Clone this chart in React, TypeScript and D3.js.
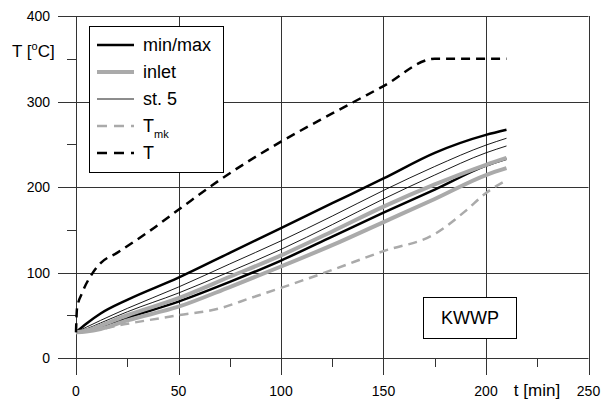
import React from "react";
import * as d3 from "d3";

// time axis [min] for the measured curves
const times = [0, 5, 12, 25, 50, 75, 100, 125, 150, 175, 200, 210];
const maxT = [30, 40, 52, 68, 94, 123, 152, 181, 210, 240, 261, 267];
const st5a = [30, 36, 44, 58, 83, 110, 137, 166, 196, 224, 249, 257];
const st5b = [30, 34, 41, 54, 76, 101, 127, 156, 186, 214, 240, 248];
const inletHi = [30, 32, 38, 50, 70, 95, 120, 148, 177, 203, 226, 234];
const minT = [30, 32, 36, 47, 66, 89, 114, 142, 170, 197, 225, 233];
const inletLo = [30, 31, 34, 44, 60, 83, 107, 132, 159, 186, 214, 222];

const tmkTimes = [0, 10, 25, 50, 70, 85, 100, 125, 150, 175, 190, 200, 210];
const tmk = [30, 33, 40, 50, 58, 70, 82, 103, 125, 145, 172, 193, 208];

const furnTimes = [0, 0.5, 3, 8, 12, 20, 35, 52, 70, 100, 125, 150, 175, 210];
const furnT = [30, 58, 76, 99, 111, 123, 147, 177, 208, 253, 286, 318, 350, 350];

const xMajor = [0, 50, 100, 150, 200, 250];
const xMinor = [25, 75, 125, 175, 225];
const yMajor = [0, 100, 200, 300, 400];
const yMinor = [50, 150, 250, 350];

const legendItems = [
  { label: "min/max", color: "#000", width: 2.5, dash: null as string | null },
  { label: "inlet", color: "#aaa", width: 4, dash: null },
  { label: "st. 5", color: "#000", width: 0.9, dash: null },
  { label: "T", sub: "mk", color: "#aaa", width: 2.5, dash: "10,7" },
  { label: "T", color: "#000", width: 2.5, dash: "10,7" },
];

const font = "'Liberation Sans', Arial, sans-serif";

export default function App() {
  const x = d3.scaleLinear().domain([0, 250]).range([76, 588.5]);
  const y = d3.scaleLinear().domain([0, 400]).range([358, 16]);

  const mk = (ts: number[], vs: number[]) =>
    d3
      .line<number>()
      .x((_, i) => x(ts[i]))
      .y((v) => y(v))
      .curve(d3.curveMonotoneX)(vs) as string;

  const series = [
    { d: mk(times, maxT), color: "#000", w: 2.5, dash: undefined },
    { d: mk(times, minT), color: "#000", w: 2.5, dash: undefined },
    { d: mk(times, st5a), color: "#000", w: 0.9, dash: undefined },
    { d: mk(times, st5b), color: "#000", w: 0.9, dash: undefined },
    { d: mk(times, inletHi), color: "#aaa", w: 4, dash: undefined },
    { d: mk(times, inletLo), color: "#aaa", w: 4, dash: undefined },
    { d: mk(tmkTimes, tmk), color: "#aaa", w: 2.5, dash: "9,6" },
    { d: mk(furnTimes, furnT), color: "#000", w: 2.5, dash: "9,6" },
  ];

  const gridColor = "#333";

  return (
    <svg
      width={603}
      height={400}
      style={{ position: "absolute", left: 0, top: 0, background: "#fff" }}
      fontFamily={font}
    >
      <rect width={603} height={400} fill="#fff" />
      {/* grid / frame */}
      {xMajor.map((t) => (
        <line
          key={"xg" + t}
          x1={Math.round(x(t)) + 0.5}
          x2={Math.round(x(t)) + 0.5}
          y1={y(400)}
          y2={375}
          stroke={gridColor}
          strokeWidth={1}
        />
      ))}
      {xMinor.map((t) => (
        <line
          key={"xm" + t}
          x1={Math.round(x(t)) + 0.5}
          x2={Math.round(x(t)) + 0.5}
          y1={y(0)}
          y2={367}
          stroke={gridColor}
          strokeWidth={1}
        />
      ))}
      {yMajor.map((v) => (
        <line
          key={"yg" + v}
          x1={58}
          x2={x(250)}
          y1={Math.round(y(v)) + 0.5}
          y2={Math.round(y(v)) + 0.5}
          stroke={gridColor}
          strokeWidth={1}
        />
      ))}
      {yMinor.map((v) => (
        <line
          key={"ym" + v}
          x1={67}
          x2={x(0)}
          y1={Math.round(y(v)) + 0.5}
          y2={Math.round(y(v)) + 0.5}
          stroke={gridColor}
          strokeWidth={1}
        />
      ))}

      {/* tick labels */}
      {yMajor.map((v) => (
        <text key={"yl" + v} x={50} y={y(v) + 5} fontSize={14} textAnchor="end" fill="#000">
          {v}
        </text>
      ))}
      {xMajor.map((t) => (
        <text key={"xl" + t} x={x(t)} y={396} fontSize={14} textAnchor="middle" fill="#000">
          {t}
        </text>
      ))}
      <text x={537} y={396} fontSize={17} textAnchor="middle">
        t [min]
      </text>
      <text x={12} y={57} fontSize={17}>
        T [<tspan fontSize={11} dy={-7}>o</tspan>
        <tspan dy={7}>C]</tspan>
      </text>

      {/* data */}
      {series.map((s, i) => (
        <path
          key={i}
          d={s.d}
          fill="none"
          stroke={s.color}
          strokeWidth={s.w}
          strokeDasharray={s.dash}
        />
      ))}

      {/* legend */}
      <rect x={89.5} y={26.5} width={134} height={146} fill="#fff" stroke="#000" strokeWidth={1} />
      {legendItems.map((it, i) => {
        const ly = 45 + i * 27;
        return (
          <g key={"lg" + i}>
            <line
              x1={97}
              x2={134}
              y1={ly}
              y2={ly}
              stroke={it.color}
              strokeWidth={it.width}
              strokeDasharray={it.dash ?? undefined}
            />
            <text x={143} y={ly + 6} fontSize={18}>
              {it.label}
              {it.sub && (
                <tspan fontSize={11} dy={6}>
                  {it.sub}
                </tspan>
              )}
            </text>
          </g>
        );
      })}

      {/* KWWP box */}
      <rect x={423.5} y={297.5} width={93} height={41} fill="#fff" stroke="#000" strokeWidth={1} />
      <text x={470} y={324} fontSize={18} textAnchor="middle">
        KWWP
      </text>
    </svg>
  );
}
